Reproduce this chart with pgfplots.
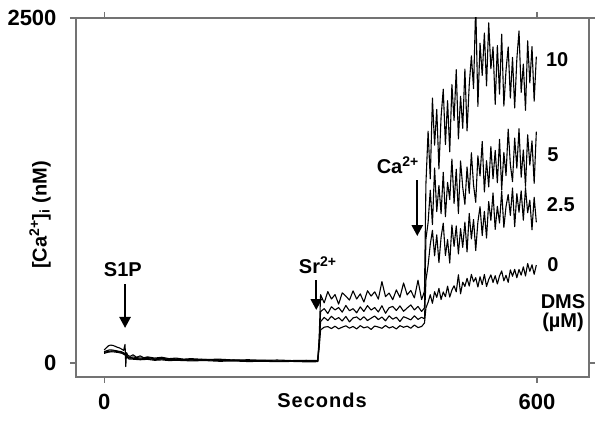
\documentclass[border=0pt]{standalone}
\usepackage{pgfplots}
\pgfplotsset{compat=1.18}
\usepackage{fontspec}
\setmainfont{Liberation Sans}
\usetikzlibrary{arrows.meta}

\pgfplotsset{trace/.style={black, line width=1.1pt, line join=round, no markers}}

\begin{document}
\begin{tikzpicture}[font=\fontsize{20}{23}\selectfont\bfseries]
\useasboundingbox (-76pt,-48pt) rectangle (524pt,377pt);
\begin{axis}[
  width=513pt, height=359pt, scale only axis,
  xmin=-39, xmax=672, ymin=-101, ymax=2500,
  xtick={0,600}, ytick={0,2500},
  tick align=outside, major tick length=6pt,
  tick style={black!55, line width=1.2pt},
  axis line style={black!55, line width=1.6pt},
  /pgf/number format/assume math mode=true,
  /pgf/number format/1000 sep={},
  ticklabel style={font=\fontsize{22}{24}\selectfont\bfseries},
  xticklabel style={yshift=-8pt},
  yticklabel style={xshift=-10pt},
]
% DMS 10 uM
\addplot[trace] coordinates {
(0,95) (3,110) (6,125) (9,130) (12,128) (15,122) (18,115) (21,110) (24,102) (27,92) (29,135) (30,-25) (31,75) (33,55) (36,48) (40,60) (45,42) (50,52) (55,38) (60,45) (70,36) (80,42) (90,32) (100,36) (110,28) (120,32) (140,26) (160,28) (180,22) (200,24) (220,20) (240,22) (260,18) (280,20) (296,18) (298,180)
(300,495) (305,436) (310,518) (315,464) (320,496) (325,427) (330,509) (335,485) (340,456) (345,523) (350,464) (355,501) (360,442) (365,524) (370,485) (375,516) (380,463) (385,590) (390,481) (395,507) (400,459) (405,530) (410,476) (415,580) (420,494) (425,526) (430,472) (435,600) (440,460) (444,520) (446,1300)
(449,1680) (452,1335) (455,1920) (458,1579) (461,1838) (464,1406) (467,1785) (470,1984) (473,1583) (476,1901) (479,1530) (482,2018) (485,1757) (488,2126) (491,1624) (494,1933) (497,1701) (500,2130) (503,1682) (506,2014) (509,2226) (512,1988) (515,2600) (518,1860) (521,2317) (524,2084) (527,2391) (530,2008) (533,2465) (536,2132) (539,2290) (542,1875) (545,2301) (548,1948) (551,2383) (554,1862) (557,2121) (560,2290) (563,1920) (566,2214) (569,1848) (572,2203) (575,2407) (578,1961) (581,2166) (584,1831) (587,2335) (590,2030) (593,2293) (596,1897) (599,2220)
};
% DMS 5 uM
\addplot[trace] coordinates {
(0,82) (4,90) (8,96) (12,94) (16,90) (20,86) (24,82) (28,72) (32,48) (36,38) (40,44) (50,36) (60,40) (70,30) (80,34) (90,28) (100,30) (120,24) (140,26) (160,20) (180,22) (200,17) (220,19) (240,15) (260,17) (280,14) (296,15) (298,150)
(300,373) (305,394) (310,359) (315,408) (320,385) (325,402) (330,369) (335,417) (340,379) (345,394) (350,364) (355,407) (360,374) (365,416) (370,384) (375,402) (380,370) (385,415) (390,361) (395,401) (400,410) (405,381) (410,414) (415,375) (420,399) (425,421) (430,385) (435,410) (440,374) (444,400) (446,900)
(449,1018) (452,1252) (455,1003) (458,1413) (461,1097) (464,1287) (467,1082) (470,1382) (473,1060) (476,1309) (479,1185) (482,1478) (485,1156) (488,1405) (491,1083) (494,1464) (497,1274) (500,1149) (503,1421) (506,1230) (509,1524) (512,1289) (515,1165) (518,1502) (521,1356) (524,1605) (527,1239) (530,1466) (533,1276) (536,1569) (539,1335) (542,1540) (545,1306) (548,1621) (551,1255) (554,1526) (557,1358) (560,1695) (563,1439) (566,1314) (569,1630) (572,1412) (575,1698) (578,1346) (581,1544) (584,1280) (587,1654) (590,1434) (593,1610) (596,1302) (599,1676)
};
% DMS 2.5 uM
\addplot[trace] coordinates {
(0,76) (5,84) (10,88) (15,86) (20,82) (25,76) (30,62) (34,38) (40,34) (50,30) (60,33) (70,26) (80,29) (90,24) (100,26) (120,21) (140,23) (160,18) (180,20) (200,15) (220,17) (240,13) (260,15) (280,12) (296,13) (298,130)
(300,300) (305,331) (310,308) (315,339) (320,315) (325,329) (330,305) (335,338) (340,298) (345,327) (350,334) (355,312) (360,336) (365,308) (370,325) (375,341) (380,315) (385,333) (390,306) (395,342) (400,318) (405,332) (410,301) (415,336) (420,325) (425,313) (430,342) (435,316) (440,332) (444,320) (446,600)
(449,708) (452,859) (455,962) (458,777) (461,929) (464,728) (467,911) (470,1014) (473,779) (476,895) (479,724) (482,1000) (485,845) (488,993) (491,790) (494,974) (497,838) (500,1021) (503,805) (506,1084) (509,900) (512,1040) (515,815) (518,1022) (521,1133) (524,924) (527,1099) (530,906) (533,1170) (536,1033) (539,1233) (542,968) (545,1136) (548,1015) (551,1247) (554,982) (557,1134) (560,1221) (563,1069) (566,1268) (569,988) (572,1228) (575,1093) (578,1248) (581,1035) (584,1270) (587,1089) (590,1180) (593,966) (596,1201) (599,1020)
};
% DMS 0 uM
\addplot[trace] coordinates {
(0,70) (5,78) (10,82) (15,80) (20,76) (25,70) (30,55) (34,30) (40,28) (50,24) (60,27) (70,20) (80,23) (90,18) (100,20) (120,16) (140,18) (160,13) (180,15) (200,11) (220,13) (240,10) (260,12) (280,9) (296,10) (298,110)
(300,240) (305,260) (310,264) (315,250) (320,267) (325,248) (330,260) (335,270) (340,253) (345,265) (350,247) (355,271) (360,255) (365,263) (370,244) (375,268) (380,261) (385,252) (390,272) (395,254) (400,264) (405,247) (410,271) (415,259) (420,268) (425,252) (430,276) (435,257) (440,265) (444,290) (446,400)
(449,440) (452,495) (455,433) (458,517) (461,476) (464,541) (467,460) (470,515) (473,481) (476,557) (479,478) (482,529) (485,560) (488,516) (491,640) (494,502) (497,586) (500,555) (503,614) (506,558) (509,642) (512,589) (515,618) (518,551) (521,625) (524,568) (527,642) (530,555) (533,605) (536,639) (539,584) (542,633) (545,573) (548,632) (551,667) (554,596) (557,636) (560,585) (563,675) (566,629) (569,679) (572,618) (575,678) (578,637) (581,697) (584,631) (587,721) (590,665) (593,712) (596,643) (599,710)
};

% additions
\node at (axis cs:26,674) {S1P};
\draw[line width=2.4pt, -{Triangle[width=11pt,length=11pt]}] (axis cs:29,572) -- (axis cs:29,254);
\node at (axis cs:296,710) {Sr\textsuperscript{2+}};
\draw[line width=2.4pt, -{Triangle[width=11pt,length=11pt]}] (axis cs:294,601) -- (axis cs:294,384);
\node at (axis cs:407,1435) {Ca\textsuperscript{2+}};
\draw[line width=2.4pt, -{Triangle[width=11pt,length=11pt]}] (axis cs:434,1326) -- (axis cs:434,920);

% DMS concentrations
\node at (axis cs:628,2196) {10};
\node at (axis cs:622,1507) {5};
\node at (axis cs:633,1145) {2.5};
\node at (axis cs:622,710) {0};
\node at (axis cs:636,442) {DMS};
\node at (axis cs:636,297) {(µM)};
\end{axis}
\node at (246pt,-23pt) {\addfontfeatures{LetterSpace=5}Seconds};
\node[rotate=90] at (-36pt,162pt) {[Ca\textsuperscript{2+}]\textsubscript{i} (nM)};
\end{tikzpicture}
\end{document}
